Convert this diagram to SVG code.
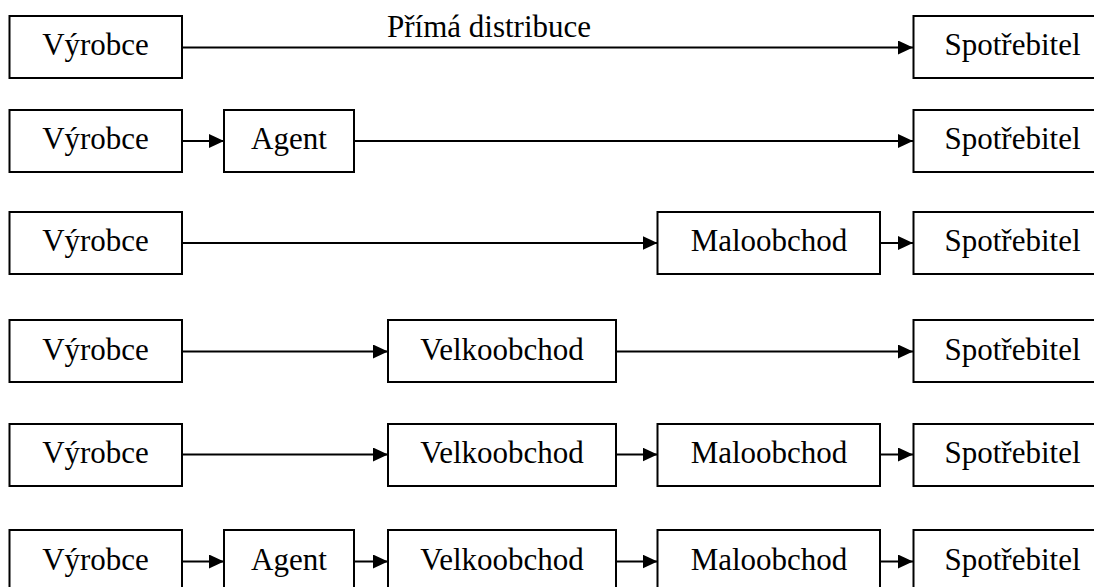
<svg xmlns="http://www.w3.org/2000/svg" width="1094" height="587" viewBox="0 0 1094 587">
<style>
.box{fill:#fff;stroke:#000;stroke-width:2}
.lbl{font-family:"Liberation Serif","Times New Roman",serif;font-size:31px;fill:#000;text-anchor:middle}
.con{fill:none;stroke:#000;stroke-width:2}
</style>
<defs>
<marker id="ah" viewBox="0 0 15 14" refX="15" refY="7" markerWidth="15" markerHeight="14" markerUnits="userSpaceOnUse" orient="auto">
<path d="M0,0 L15,7 L0,14 z" fill="#000"/>
</marker>
</defs>
<rect width="1094" height="587" fill="#fff"/>
<g id="connectors">
<path class="con" d="M182,47.5 H913" marker-end="url(#ah)"/>
<text class="lbl" x="489" y="37">Přímá distribuce</text>
<path class="con" d="M182,141 H224" marker-end="url(#ah)"/>
<path class="con" d="M354,141 H913" marker-end="url(#ah)"/>
<path class="con" d="M182,243 H657.5" marker-end="url(#ah)"/>
<path class="con" d="M880,243 H913" marker-end="url(#ah)"/>
<path class="con" d="M182,351.5 H388" marker-end="url(#ah)"/>
<path class="con" d="M616,351.5 H913" marker-end="url(#ah)"/>
<path class="con" d="M182,454.5 H388" marker-end="url(#ah)"/>
<path class="con" d="M616,454.5 H657.5" marker-end="url(#ah)"/>
<path class="con" d="M880,454.5 H913" marker-end="url(#ah)"/>
<path class="con" d="M182,561.5 H224" marker-end="url(#ah)"/>
<path class="con" d="M354,561.5 H388" marker-end="url(#ah)"/>
<path class="con" d="M616,561.5 H657.5" marker-end="url(#ah)"/>
<path class="con" d="M880,561.5 H913" marker-end="url(#ah)"/>
</g>
<g id="r1-vyrobce"><rect class="box" x="9.5" y="16" width="172.5" height="62"/><text class="lbl" x="95.5" y="55">Výrobce</text></g>
<g id="r1-spotrebitel"><rect class="box" x="913.5" y="16" width="200" height="62"/><text class="lbl" x="1012.5" y="55">Spotřebitel</text></g>
<g id="r2-vyrobce"><rect class="box" x="9.5" y="110" width="172.5" height="62"/><text class="lbl" x="95.5" y="149">Výrobce</text></g>
<g id="r2-agent"><rect class="box" x="224" y="110" width="130" height="62"/><text class="lbl" x="289" y="149">Agent</text></g>
<g id="r2-spotrebitel"><rect class="box" x="913.5" y="110" width="200" height="62"/><text class="lbl" x="1012.5" y="149">Spotřebitel</text></g>
<g id="r3-vyrobce"><rect class="box" x="9.5" y="212" width="172.5" height="62"/><text class="lbl" x="95.5" y="251">Výrobce</text></g>
<g id="r3-maloobchod"><rect class="box" x="657.5" y="212" width="222.5" height="62"/><text class="lbl" x="769" y="251">Maloobchod</text></g>
<g id="r3-spotrebitel"><rect class="box" x="913.5" y="212" width="200" height="62"/><text class="lbl" x="1012.5" y="251">Spotřebitel</text></g>
<g id="r4-vyrobce"><rect class="box" x="9.5" y="320" width="172.5" height="62"/><text class="lbl" x="95.5" y="359.5">Výrobce</text></g>
<g id="r4-velkoobchod"><rect class="box" x="388" y="320" width="228" height="62"/><text class="lbl" x="502" y="359.5">Velkoobchod</text></g>
<g id="r4-spotrebitel"><rect class="box" x="913.5" y="320" width="200" height="62"/><text class="lbl" x="1012.5" y="359.5">Spotřebitel</text></g>
<g id="r5-vyrobce"><rect class="box" x="9.5" y="424" width="172.5" height="62"/><text class="lbl" x="95.5" y="463">Výrobce</text></g>
<g id="r5-velkoobchod"><rect class="box" x="388" y="424" width="228" height="62"/><text class="lbl" x="502" y="463">Velkoobchod</text></g>
<g id="r5-maloobchod"><rect class="box" x="657.5" y="424" width="222.5" height="62"/><text class="lbl" x="769" y="463">Maloobchod</text></g>
<g id="r5-spotrebitel"><rect class="box" x="913.5" y="424" width="200" height="62"/><text class="lbl" x="1012.5" y="463">Spotřebitel</text></g>
<g id="r6-vyrobce"><rect class="box" x="9.5" y="530" width="172.5" height="62"/><text class="lbl" x="95.5" y="570">Výrobce</text></g>
<g id="r6-agent"><rect class="box" x="224" y="530" width="130" height="62"/><text class="lbl" x="289" y="570">Agent</text></g>
<g id="r6-velkoobchod"><rect class="box" x="388" y="530" width="228" height="62"/><text class="lbl" x="502" y="570">Velkoobchod</text></g>
<g id="r6-maloobchod"><rect class="box" x="657.5" y="530" width="222.5" height="62"/><text class="lbl" x="769" y="570">Maloobchod</text></g>
<g id="r6-spotrebitel"><rect class="box" x="913.5" y="530" width="200" height="62"/><text class="lbl" x="1012.5" y="570">Spotřebitel</text></g>
</svg>
